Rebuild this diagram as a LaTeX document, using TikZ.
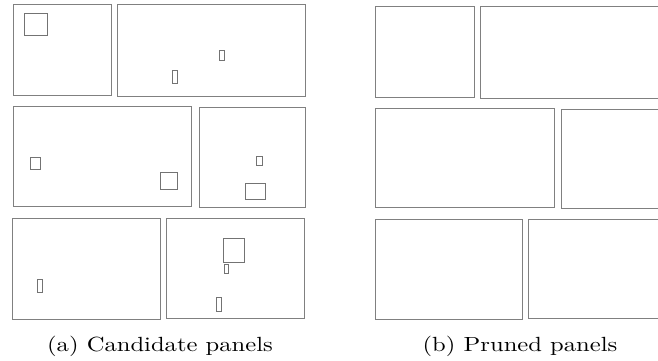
\documentclass[tikz,border=0pt]{standalone}
\usepackage{graphicx}
\tikzset{
  panel/.style={draw=black!50, line width=0.5pt},
  cand/.style={draw=black!55, line width=0.5pt},
  caption/.style={anchor=base, inner sep=0pt, font=\fontsize{10.25}{12}\selectfont}
}
\begin{document}
\begin{tikzpicture}[x=0.5pt, y=-0.5pt]
\useasboundingbox (0,0) rectangle (658,360);
\fill[white] (0,0) rectangle (658,360);
% (a) candidate panels
\draw[panel] (13,4) rectangle (111,95.3);
\draw[cand] (24,13.3) rectangle (47.5,35.3);
\draw[panel] (117.3,4.3) rectangle (305.3,96.3);
\draw[cand] (219.2,50.3) rectangle (224,60.5);
\draw[cand] (172.5,70) rectangle (177.5,83.3);
\draw[panel] (13,106.7) rectangle (191.7,206);
\draw[cand] (30.5,157.7) rectangle (40.7,169.3);
\draw[cand] (160.7,172.3) rectangle (177.5,189.8);
\draw[panel] (199,107.3) rectangle (305.3,207.2);
\draw[cand] (256.3,156) rectangle (262.5,165.5);
\draw[cand] (245.5,183) rectangle (265.7,199.3);
\draw[panel] (12.7,218) rectangle (160.7,319);
\draw[cand] (37,279) rectangle (42,292.3);
\draw[panel] (166,218.3) rectangle (304.7,318);
\draw[cand] (223,238.3) rectangle (244,262.3);
\draw[cand] (224.5,264) rectangle (228.7,273.7);
\draw[cand] (216.5,297) rectangle (221.7,311.3);
% (b) pruned panels
\begin{scope}
\clip (0,0) rectangle (658,360);
\draw[panel] (375.3,6.3) rectangle (474,97.7);
\draw[panel] (480.3,6.7) rectangle (700,98.7);
\draw[panel] (375.3,108.3) rectangle (554.7,207.7);
\draw[panel] (561,109) rectangle (700,208.3);
\draw[panel] (375.3,219.3) rectangle (522.7,319.3);
\draw[panel] (528.3,219.3) rectangle (700,318.7);
\end{scope}
\node[caption] (capa) at (160,351) {\scalebox{1.2}[1]{(a) Candidate panels}};
\node[caption] (capb) at (520,351) {\scalebox{1.2}[1]{(b) Pruned panels}};
\end{tikzpicture}
\end{document}
